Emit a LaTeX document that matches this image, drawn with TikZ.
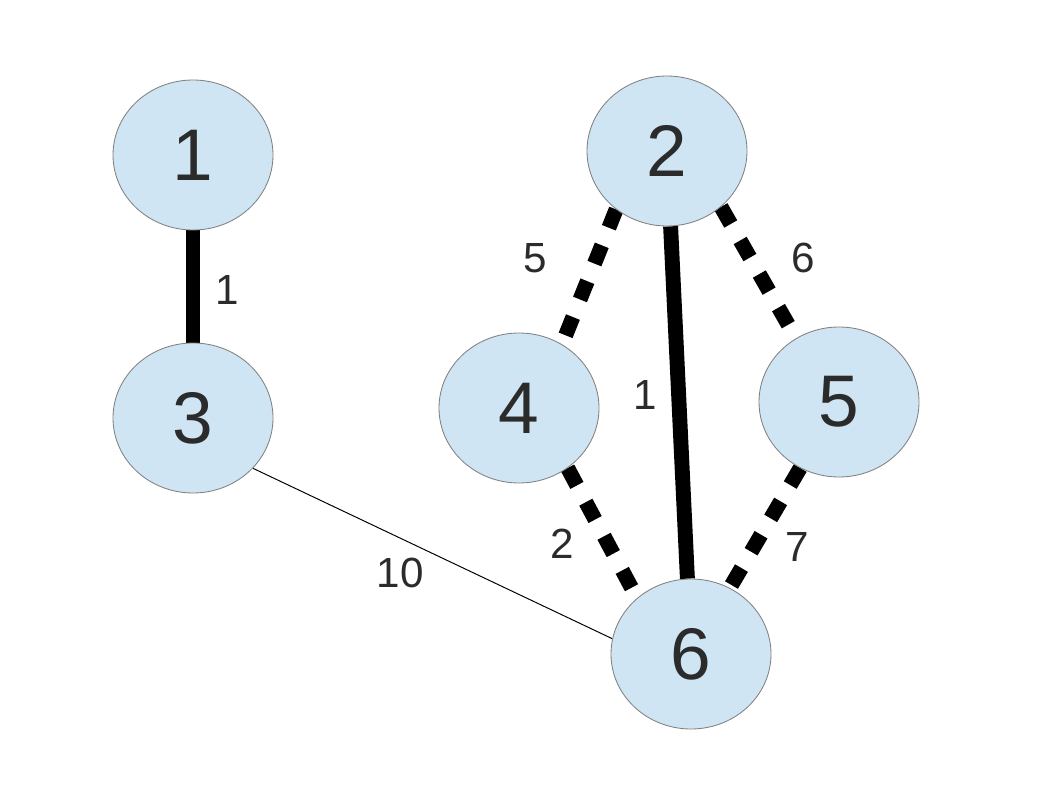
\documentclass[tikz,border=0pt]{standalone}
\usepackage{fontspec}
\setmainfont{Liberation Sans}
\usetikzlibrary{shapes.geometric,backgrounds}
\definecolor{nodefill}{RGB}{207,229,243}
\definecolor{nodeline}{RGB}{128,128,128}
\definecolor{numtext}{RGB}{43,43,43}

\begin{document}
\begin{tikzpicture}[
    vertex/.style={ellipse,draw=nodeline,line width=0.6pt,fill=nodefill,
      minimum width=4cm,minimum height=3.75cm,inner sep=0pt,
      text=numtext,font=\fontsize{52}{60}\selectfont},
    weight/.style={text=numtext,inner sep=0pt,font=\fontsize{30}{36}\selectfont},
    tree/.style={line width=10.6pt},
    cand/.style={line width=10.6pt,dash pattern=on 14pt off 13.5pt},
  ]
  \useasboundingbox (0,0) rectangle (26.45,19.85);

  \foreach \n/\x/\y in {1/4.825/15.975, 2/16.675/16.075, 3/4.825/9.4,
                        4/12.975/9.65, 5/20.975/9.8, 6/17.275/3.5}{
    \node[vertex] (n\n) at (\x,\y) {\n};
  }

  \foreach \w/\x/\y [count=\i] in {1/5.675/12.6, 5/13.375/13.4, 6/20.075/13.4,
                                   1/16.125/9.975, 2/14.05/6.25, 7/19.925/6.175,
                                   10/10.0/5.525}{
    \node[weight] (w\i) at (\x,\y) {\w};
  }

  \begin{pgfonlayer}{background}
    \draw[tree] (n1) -- (n3);
    \draw[tree] (n2) -- (n6);
    \draw[cand] (n2.229) -- (n4.56);
    \draw[cand] (n2.314) -- (n5.124);
    \draw[cand] (n4.309) -- (n6.134);
    \draw[cand] (n5) -- (n6);
    \draw[line width=0.7pt] (n3.-40) -- (n6.169);
  \end{pgfonlayer}
\end{tikzpicture}
\end{document}
